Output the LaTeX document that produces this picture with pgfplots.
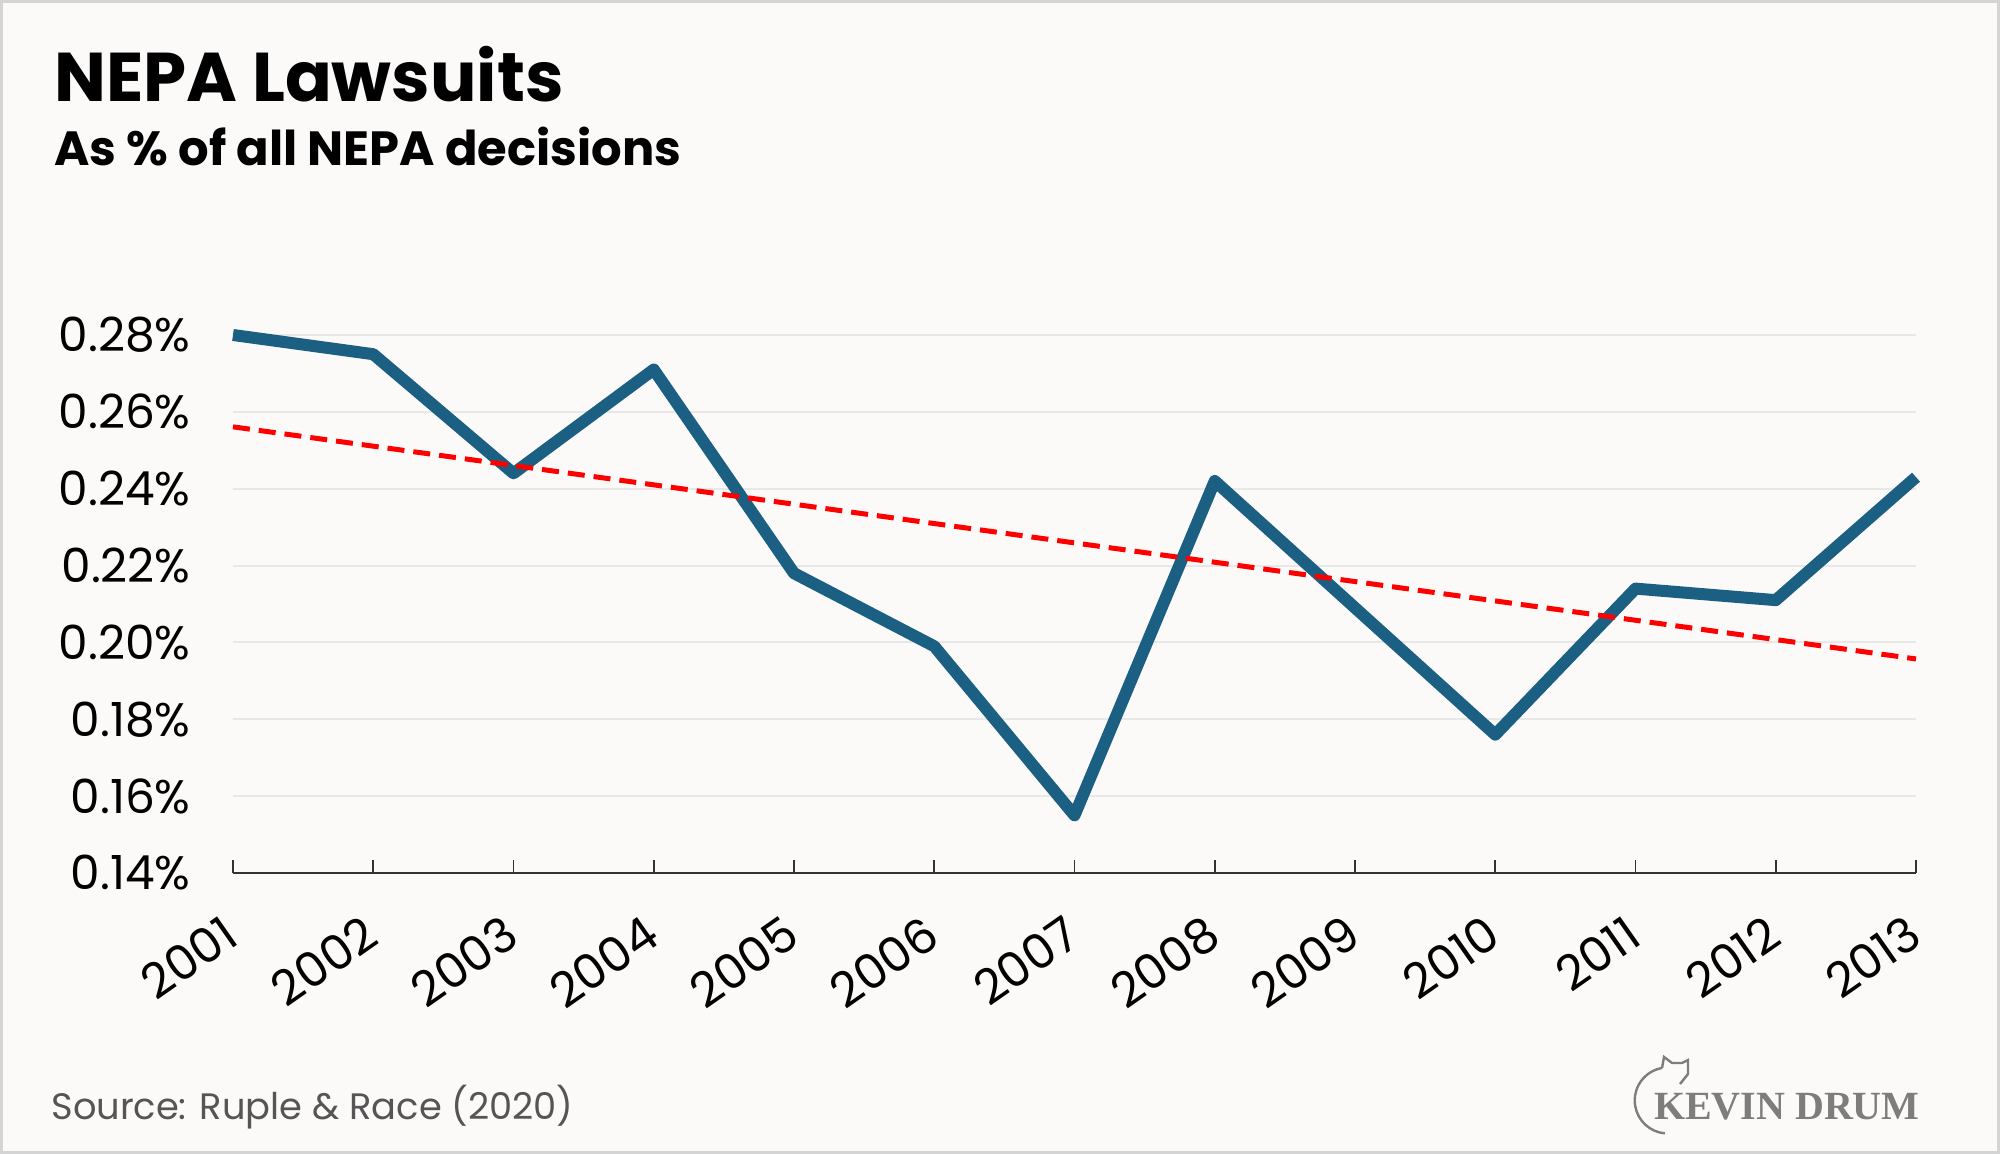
\documentclass[border=0pt]{standalone}
\usepackage{fontspec}
\setmainfont{Poppins}
\newfontfamily\logofont{Liberation Serif}
\usepackage{pgfplots}
\pgfplotsset{compat=1.18}
\definecolor{bg}{RGB}{252,250,249}
\definecolor{lineblue}{RGB}{27,96,131}
\definecolor{gridgray}{RGB}{232,232,232}
\definecolor{framegray}{RGB}{212,212,212}
\definecolor{srcgray}{RGB}{85,85,85}
\definecolor{logogray}{RGB}{125,125,125}

\begin{document}
\begin{tikzpicture}
\path[use as bounding box, fill=bg] (0,0) rectangle (1000pt,577pt);
\begin{axis}[
    at={(116.5pt,140.5pt)}, anchor=south west,
    scale only axis,
    width=841.5pt, height=269pt,
    xmin=2001, xmax=2013,
    ymin=0.14, ymax=0.28,
    clip=false,
    axis x line=bottom, axis y line=left,
    x axis line style={-, draw=black!80, line width=1pt},
    y axis line style={draw=none},
    tick align=inside,
    major tick length=6.5pt,
    xtick={2001,2002,2003,2004,2005,2006,2007,2008,2009,2010,2011,2012,2013},
    xticklabels={2001,2002,2003,2004,2005,2006,2007,2008,2009,2010,2011,2012,2013},
    xtick style={draw=black!80, line width=0.8pt},
    x tick label style={yshift=-20pt, xshift=-6pt, rotate=35, anchor=north east,
        inner sep=0pt, font=\fontsize{24}{24}\selectfont},
    ytick={0.14,0.16,0.18,0.20,0.22,0.24,0.26,0.28},
    yticklabels={0.14\%,0.16\%,0.18\%,0.20\%,0.22\%,0.24\%,0.26\%,0.28\%},
    ytick style={draw=none},
    y tick label style={anchor=east, inner sep=0pt, xshift=-21pt,
        font=\fontsize{23.5}{23.5}\selectfont},
    ymajorgrids=true,
    grid style={gridgray, line width=1pt},
]

% lawsuits as share of decisions
\addplot[lineblue, line width=6pt, line join=round] coordinates {
    (2001,0.280) (2002,0.275) (2003,0.244) (2004,0.271) (2005,0.218)
    (2006,0.199) (2007,0.155) (2008,0.242) (2009,0.209) (2010,0.176)
    (2011,0.214) (2012,0.211) (2013,0.243)
};

% linear trend
\addplot[red, line width=2.5pt, dash pattern=on 8.5pt off 4.5pt] coordinates {
    (2001,0.2561) (2013,0.1957)
};
\end{axis}

\node[anchor=base west, inner sep=0pt] at (27pt,526.2pt)
    {\fontsize{34.5}{34.5}\selectfont\bfseries NEPA Lawsuits};
\node[anchor=base west, inner sep=0pt] at (27pt,494.2pt)
    {\fontsize{24}{24}\selectfont\bfseries As \% of all NEPA decisions};
\node[anchor=base west, inner sep=0pt, text=srcgray] at (25.5pt,17pt)
    {\fontsize{18.4}{18.4}\selectfont Source: Ruple \& Race (2020)};

% logo
\node[anchor=base east, inner sep=0pt, text=logogray] at (960pt,17pt)
    {\logofont\bfseries\fontsize{20}{20}\selectfont KEVIN DRUM};
\draw[logogray, line width=1.2pt] (831pt,43pt) arc[start angle=100, end angle=265, radius=16.5pt];
\draw[logogray, line width=1.2pt] (831pt,43pt) -- (832pt,48.5pt) -- (836pt,45.5pt)
    -- (841pt,45.5pt) -- (844pt,47pt) -- (844pt,40pt) -- (840pt,35pt);

\draw[framegray, line width=1.5pt] (0.75pt,0.75pt) rectangle (999.25pt,576.25pt);
\end{tikzpicture}
\end{document}
